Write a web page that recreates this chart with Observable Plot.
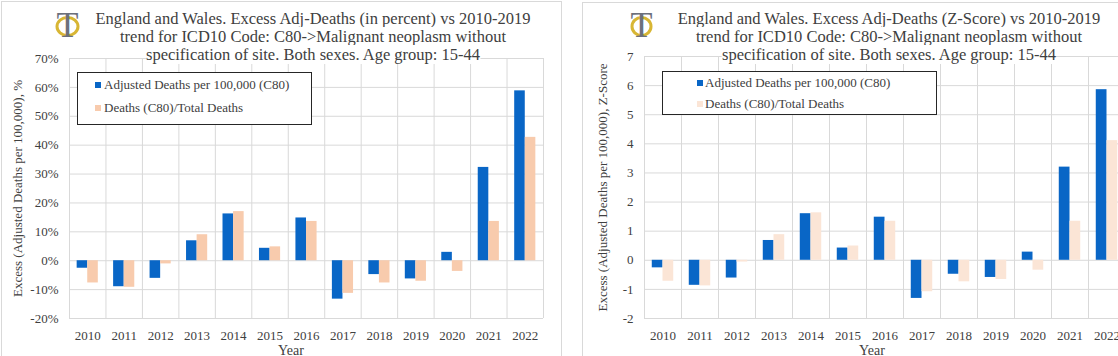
<!DOCTYPE html>
<html><head><meta charset="utf-8">
<script src="https://cdn.jsdelivr.net/npm/d3@7"></script>
<script src="https://cdn.jsdelivr.net/npm/@observablehq/plot@0.6"></script>
<style>
html,body{margin:0;padding:0;background:#fff;width:1118px;height:356px;overflow:hidden;font-family:"Liberation Serif","Times New Roman",Tinos,"DejaVu Serif",serif;color:#404040}
.panel{position:absolute;border:1px solid #d9d9d9;box-sizing:border-box;width:600px;height:420px}
.chart{position:absolute;top:0}
.title{position:absolute;text-align:center;font-size:16.5px;line-height:18px;white-space:nowrap;transform:translateX(-50%)}
.title span{background:#fff}
.legend{position:absolute;background:#fff;border:1.5px solid #262626;box-sizing:border-box}
.item{position:absolute;white-space:nowrap;font-size:13px;line-height:14px}
.sw{display:inline-block;width:6px;height:6px;position:absolute;top:4px}
.xlabel{position:absolute;font-size:14px;line-height:14px;transform:translateX(-50%)}
.logo{position:absolute;overflow:visible}
</style>
</head><body>
<div id="root"></div>
<script>
const years = [2010, 2011, 2012, 2013, 2014, 2015, 2016, 2017, 2018, 2019, 2020, 2021, 2022];
const pctAdjusted = [-2.6, -9.0, -6.1, 6.9, 16.2, 4.3, 14.8, -13.3, -4.8, -6.3, 2.9, 32.3, 58.8];
const pctRatio = [-7.7, -9.2, -1.1, 9.0, 17.0, 4.8, 13.6, -11.3, -7.7, -7.1, -3.7, 13.6, 42.7];
const zAdjusted = [-0.26, -0.86, -0.61, 0.68, 1.60, 0.42, 1.48, -1.31, -0.48, -0.59, 0.28, 3.20, 5.86];
const zRatio = [-0.72, -0.88, -0.06, 0.88, 1.63, 0.49, 1.34, -1.08, -0.74, -0.66, -0.34, 1.34, 4.11];
const pctTicks = [-20, -10, 0, 10, 20, 30, 40, 50, 60, 70];
const zTicks = [-2, -1, 0, 1, 2, 3, 4, 5, 6, 7];
const seriesNames = ["Adjusted Deaths per 100,000 (C80)", "Deaths (C80)/Total Deaths"];
const titlePct = ["England and Wales. Excess Adj-Deaths (in percent) vs 2010-2019", "trend for ICD10 Code: C80->Malignant neoplasm without", "specification of site. Both sexes. Age group: 15-44"];
const titleZ = ["England and Wales. Excess Adj-Deaths (Z-Score) vs 2010-2019", "trend for ICD10 Code: C80->Malignant neoplasm without", "specification of site. Both sexes. Age group: 15-44"];
const yLabelPct = "Excess (Adjusted Deaths per 100,000), %";
const yLabelZ = "Excess (Adjusted Deaths per 100,000), Z-Score";
const xLabel = "Year";

const FONT = "'Liberation Serif','Times New Roman',Tinos,'DejaVu Serif',serif";
const BLUE = "#0966c6";
const GRID = "#d9d9d9";
const HALF = 0.29; // bar width as fraction of a year step

const root = document.getElementById("root");

function el(tag, cls, style, html) {
  const e = document.createElement(tag);
  if (cls) e.className = cls;
  if (style) Object.assign(e.style, style);
  if (html != null) e.innerHTML = html;
  root.appendChild(e);
  return e;
}

function logo(x, y, w) {
  const ns = "http://www.w3.org/2000/svg";
  const s = document.createElementNS(ns, "svg");
  s.setAttribute("class", "logo");
  s.setAttribute("width", w); s.setAttribute("height", 28);
  s.style.left = x + "px"; s.style.top = y + "px";
  s.innerHTML = `<ellipse cx="${w/2}" cy="15.5" rx="${w/2 - 3}" ry="9" fill="none" stroke="#d8b634" stroke-width="3"/>
  <text x="${w/2}" y="26" text-anchor="middle" font-family="${FONT}" font-size="36" fill="#6c707c">T</text>`;
  root.appendChild(s);
}

function chart({left, width, marginLeft, marginTop, adj, ratio, ticks, fmt, peach, yLabel, labelOffset}) {
  const rows = years.map((year, i) => ({year, adj: adj[i], ratio: ratio[i]}));
  const bounds = years.map(y => y - 0.5).concat([years[years.length - 1] + 0.5]);
  const p = Plot.plot({
    width, height: 356,
    marginLeft, marginRight: 19, marginTop, marginBottom: 38,
    x: {domain: [years[0] - 0.5, years[years.length - 1] + 0.5]},
    y: {domain: [ticks[0], ticks[ticks.length - 1]]},
    style: {fontFamily: FONT, fontSize: "13px", color: "#404040", background: "transparent", overflow: "visible"},
    marks: [
      Plot.gridY(ticks, {stroke: GRID, strokeOpacity: 1}),
      Plot.gridX(bounds, {stroke: GRID, strokeOpacity: 1}),
      Plot.rect(rows, {x1: d => d.year - HALF, x2: d => d.year, y1: 0, y2: "adj", fill: BLUE}),
      Plot.rect(rows, {x1: d => d.year, x2: d => d.year + HALF, y1: 0, y2: "ratio", fill: peach}),
      Plot.axisY(ticks, {tickSize: 0, tickPadding: 11, tickFormat: fmt, label: yLabel, labelAnchor: "center", labelArrow: "none", labelOffset, fontSize: 13}),
      Plot.axisX(years, {tickSize: 0, tickPadding: 12, tickFormat: d => String(d), label: null, fontSize: 13})
    ]
  });
  p.classList.add("chart");
  p.style.left = left + "px";
  root.appendChild(p);
}

// panel borders
el("div", "panel", {left: "1px", top: "1px", width: "561px"});
el("div", "panel", {left: "582px", top: "2px"});

chart({left: 0, width: 562, marginLeft: 69, marginTop: 58, adj: pctAdjusted, ratio: pctRatio, ticks: pctTicks, fmt: d => d + "%", peach: "#f8cbad", yLabel: yLabelPct, labelOffset: 57});
chart({left: 560, width: 584, marginLeft: 84, marginTop: 56, adj: zAdjusted, ratio: zRatio, ticks: zTicks, fmt: d => String(d), peach: "#fbe5d6", yLabel: yLabelZ, labelOffset: 47});

// titles
el("div", "title", {left: "313px", top: "10px"}, titlePct.map(t => `<span>${t}</span>`).join("<br>"));
el("div", "title", {left: "889px", top: "10px"}, titleZ.map(t => `<span>${t}</span>`).join("<br>"));
logo(54, 11, 27);
logo(629, 11, 25);

// legends
el("div", "legend", {left: "77px", top: "72px", width: "235px", height: "53px"});
[[seriesNames[0], BLUE, 78], [seriesNames[1], "#f8cbad", 101]].forEach(([t, c, y]) => {
  el("div", "item", {left: "95px", top: y + "px"}, `<span class="sw" style="background:${c};left:0"></span><span style="margin-left:9px">${t}</span>`);
});
el("div", "legend", {left: "662px", top: "71px", width: "275px", height: "44px"});
[[seriesNames[0], BLUE, 76], [seriesNames[1], "#fbe5d6", 97]].forEach(([t, c, y]) => {
  el("div", "item", {left: "697px", top: y + "px"}, `<span class="sw" style="background:${c};left:0"></span><span style="margin-left:8px">${t}</span>`);
});

// x axis titles
el("div", "xlabel", {left: "291px", top: "344px"}, xLabel);
el("div", "xlabel", {left: "872px", top: "344px"}, xLabel);
</script>
</body></html>
